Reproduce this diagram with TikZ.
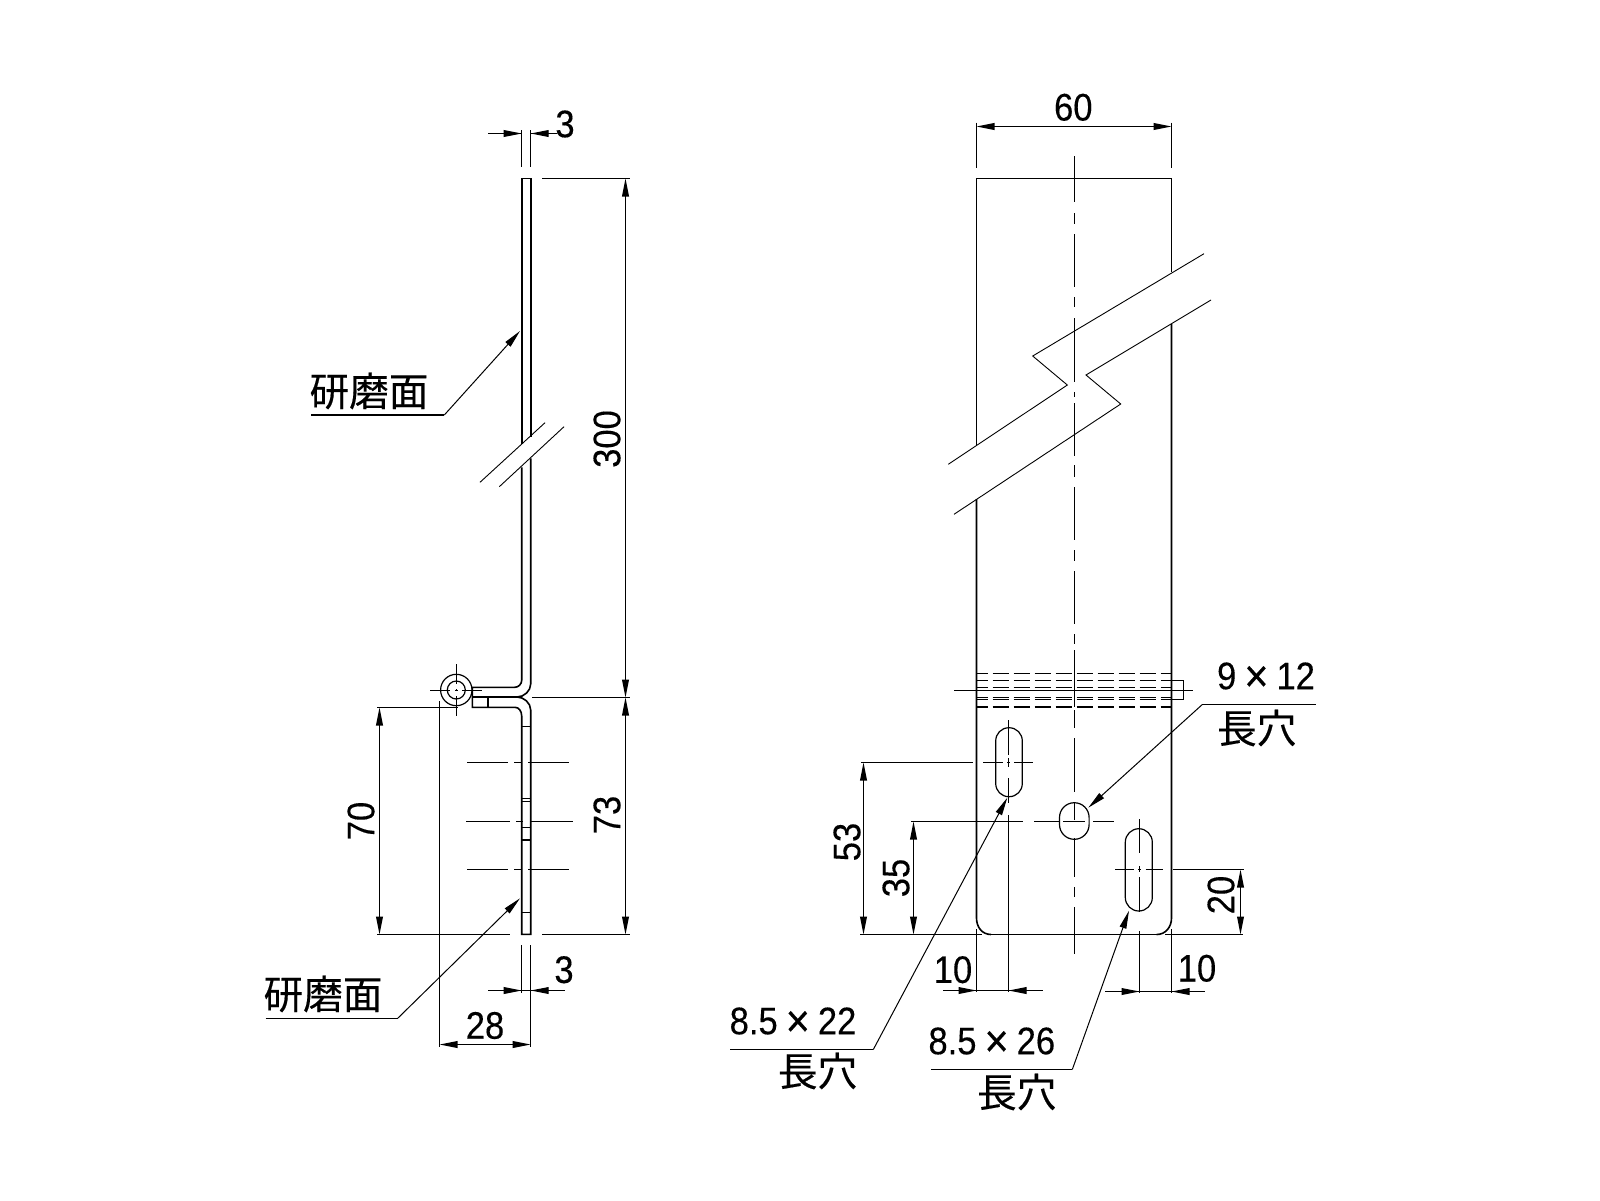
\documentclass[tikz,border=0pt]{standalone}
\usepackage{fontspec}
\setmainfont[FakeStretch=0.9,FakeBold=0.25]{Liberation Sans}
\newfontfamily\jpfont[FakeBold=0.35]{Noto Sans CJK JP}
\usetikzlibrary{arrows.meta}
\newcommand{\bigx}{\hspace{4pt}\raisebox{-1.2pt}{\fontsize{23pt}{23pt}\selectfont ×}\hspace{4pt}}
\tikzset{
  main/.style={line width=0.8pt,line cap=butt,line join=miter},
  thin line/.style={line width=0.6pt},
  hair/.style={line width=0.45pt},
  tip/.style={line width=0.5pt,-{Triangle[length=9pt,width=3.4pt]}},
  tiptwo/.style={line width=0.55pt,{Triangle[length=9pt,width=3.4pt]}-{Triangle[length=9pt,width=3.4pt]}},
  num/.style={inner sep=0pt,font=\fontsize{19.2pt}{20pt}\selectfont},
  jp/.style={inner sep=0pt,font=\fontsize{19.8pt}{21pt}\selectfont\jpfont},
  hid/.style={line width=0.6pt,dash pattern=on 8pt off 2.5pt,dash phase=2.5pt},
}
\begin{document}
\begin{tikzpicture}[x=0.5pt,y=-0.5pt]
\useasboundingbox (0,0) rectangle (1600,1200);
% ---------- left view: plate
\draw[main] (521.7,178.3) -- (530.7,178.3);
\draw[main] (521.7,178.3) -- (521.7,444.3);
\draw[main] (530.7,178.3) -- (530.7,436.7);
\draw[main] (521.7,467.3) -- (521.7,680.3) .. controls (521.7,684) and (518.5,687.3) .. (514.7,687.3) -- (472.3,687.3) -- (472.3,707.3) -- (515,707.3) .. controls (518.7,707.3) and (521.7,711) .. (521.7,716) -- (521.7,934.3) -- (530.7,934.3) -- (530.7,710) .. controls (530.7,703) and (524,697) .. (517,697) -- (472.3,697);
\draw[main] (530.7,458.3) -- (530.7,684) .. controls (530.7,691) and (524,697) .. (517,697);
\draw[thin line] (488,697) -- (488,707.3);
\foreach \y in {726.7,798.7,801.3,827.3,840,912.3} \draw[thin line] (521.7,\y) -- (530.7,\y);
\draw[thin line] (456.3,690) circle (15.7);
\draw[thin line] (456.3,690) circle (9);
\draw[hair] (430,690) -- (450,690) (455,690) -- (457.7,690) (462,690) -- (481.7,690);
\draw[hair] (456.3,664) -- (456.3,684) (456.3,689) -- (456.3,691) (456.3,696) -- (456.3,715.7);
% left view: break lines
\draw[hair] (480,482.3) -- (545,422.7);
\draw[hair] (499.3,486.7) -- (564,426.7);
% left view: centre lines
\foreach \y/\a/\b/\c/\d/\e/\f in {762.5/467/508/514/522/528/569, 821.5/466/510/516/523/530/572.7, 869.5/467/508/514/522/528/569}
  \draw[thin line] (\a,\y) -- (\b,\y) (\c,\y) -- (\d,\y) (\e,\y) -- (\f,\y);
% left view: extension and dimension lines
\draw[thin line] (542,178.5) -- (629.6,178.5);
\draw[thin line] (532,697.5) -- (629.6,697.5);
\draw[thin line] (542.3,934.5) -- (629.6,934.5);
\draw[thin line] (377.3,934.5) -- (510,934.5);
\draw[thin line] (377.3,707.5) -- (458,707.5);
\draw[thin line] (439.5,701) -- (439.5,1046.7);
\draw[thin line] (521.7,945) -- (521.7,993.3);
\draw[thin line] (530.7,945) -- (530.7,1046.7);
\draw[thin line] (521.7,130) -- (521.7,167);
\draw[thin line] (530.7,130) -- (530.7,167);
% 3 (top)
\draw[hair] (488,133.5) -- (521.7,133.5);
\draw[hair] (530.7,133.5) -- (556.7,133.5);
\draw[tip] (500,133.5) -- (521.7,133.5);
\draw[tip] (552,133.5) -- (530.7,133.5);
\node[num] (dimthreetop) at (565,124) {3};
% 3 (bottom)
\draw[hair] (488.3,990.5) -- (565,990.5);
\draw[tip] (500,990.5) -- (521.7,990.5);
\draw[tip] (552,990.5) -- (530.7,990.5);
\node[num] (dimthreebot) at (564,969.7) {3};
% 28
\draw[tiptwo] (439.5,1044.5) -- (530.7,1044.5);
\node[num] (dimtwoeight) at (485,1025.5) {28};
% 300, 73, 70
\draw[tiptwo] (625.5,178.5) -- (625.5,697.5);
\draw[tiptwo] (625.5,697.5) -- (625.5,934.5);
\draw[tiptwo] (379.5,707.5) -- (379.5,934.5);
\node[num,rotate=90] (dimthreehundred) at (607,439) {300};
\node[num,rotate=90] (dimseventythree) at (607,815) {73};
\node[num,rotate=90] (dimseventy) at (361,821) {70};
% left view: leaders
\coordinate (leadA) at (444.3,415);
\coordinate (leadAtip) at (520,331);
\coordinate (leadAend) at (311,415);
\draw[thin line] (leadAend) -- (leadA);
\draw[tip] (leadA) -- (leadAtip);
\node[jp] (polishA) at (369,391) {研磨面};
\coordinate (leadB) at (397.7,1018.3);
\coordinate (leadBtip) at (520,898.3);
\coordinate (leadBend) at (265.7,1018.3);
\draw[thin line] (leadBend) -- (leadB);
\draw[tip] (leadB) -- (leadBtip);
\node[jp] (polishB) at (323,994) {研磨面};
% ---------- right view: plate
\draw[main] (976.5,445) -- (976.5,178.5) -- (1171.5,178.5) -- (1171.5,271.7);
\draw[main] (976.5,499) -- (976.5,918) .. controls (976.5,927) and (982,934.5) .. (991,934.5);
\draw[main] (1171.5,324) -- (1171.5,918) .. controls (1171.5,927) and (1165.6,934.5) .. (1156.6,934.5);
\draw[thin line] (860,934.5) -- (982,934.5) (990,934.5) -- (1157,934.5) (1165,934.5) -- (1243.3,934.5);
% right view: break
\draw[hair] (1204,253.7) -- (1032.7,356) -- (1067.3,385) -- (948.3,464.3);
\draw[hair] (1211,300) -- (1086,375) -- (1120.7,404) -- (954,514.3);
% right view: centre line
\draw[thin line] (1074.5,156) -- (1074.5,202) (1074.5,213) -- (1074.5,224) (1074.5,234) -- (1074.5,287) (1074.5,297) -- (1074.5,307) (1074.5,318) -- (1074.5,382) (1074.5,392) -- (1074.5,397) (1074.5,403) -- (1074.5,456) (1074.5,465) -- (1074.5,477) (1074.5,487) -- (1074.5,540) (1074.5,550) -- (1074.5,561) (1074.5,571) -- (1074.5,624) (1074.5,634) -- (1074.5,644) (1074.5,650) -- (1074.5,707) (1074.5,710) -- (1074.5,728) (1074.5,738) -- (1074.5,792) (1074.5,802) -- (1074.5,820) (1074.5,838) -- (1074.5,877) (1074.5,887) -- (1074.5,897) (1074.5,907) -- (1074.5,954);
% right view: bend (hidden lines)
\foreach \y in {673.5,680.5,687.5,697.3,699.5} \draw[hid] (976.5,\y) -- (1171.5,\y);
\draw[hid,line width=1.1pt] (976.5,707) -- (1171.5,707);
\draw[thin line] (1171.5,680.5) -- (1183.5,680.5) -- (1183.5,699.5) -- (1171.5,699.5);
\draw[thin line] (954,690.5) -- (1193.3,690.5);
% right view: slots
\draw[thin line] (995.7,741) .. controls (995.7,733.6) and (1001.3,727.7) .. (1009,727.7) .. controls (1016.6,727.7) and (1022.3,733.6) .. (1022.3,741) -- (1022.3,783.4) .. controls (1022.3,790.8) and (1016.6,796.7) .. (1009,796.7) .. controls (1001.3,796.7) and (995.7,790.8) .. (995.7,783.4) -- cycle;
\draw[thin line] (1125.3,842.2) .. controls (1125.3,834.7) and (1131.4,828.7) .. (1138.8,828.7) .. controls (1146.2,828.7) and (1152.3,834.7) .. (1152.3,842.2) -- (1152.3,897.5) .. controls (1152.3,905) and (1146.2,911) .. (1138.8,911) .. controls (1131.4,911) and (1125.3,905) .. (1125.3,897.5) -- cycle;
\draw[thin line] (1059.5,817.5) .. controls (1059.5,809.3) and (1066.1,802.7) .. (1074.3,802.7) .. controls (1082.5,802.7) and (1089.1,809.3) .. (1089.1,817.5) -- (1089.1,824.5) .. controls (1089.1,832.7) and (1082.5,839.3) .. (1074.3,839.3) .. controls (1066.1,839.3) and (1059.5,832.7) .. (1059.5,824.5) -- cycle;
% right view: slot centre lines
\draw[thin line] (983.3,762.5) -- (1002.7,762.5) (1007,762.5) -- (1010,762.5) (1014,762.5) -- (1032.7,762.5);
\draw[thin line] (1008.5,720) -- (1008.5,755) (1008.5,758) -- (1008.5,767) (1008.5,778) -- (1008.5,803) (1008.5,815) -- (1008.5,991.7);
\draw[thin line] (911,821.5) -- (1023.3,821.5) (1034,821.5) -- (1059,821.5) (1063,821.5) -- (1085,821.5) (1093.3,821.5) -- (1114,821.5);
\draw[thin line] (1115,869.5) -- (1134,869.5) (1138,869.5) -- (1140.7,869.5) (1145.7,869.5) -- (1162.7,869.5);
\draw[thin line] (1172.7,869.5) -- (1244,869.5);
\draw[thin line] (1139.5,819) -- (1139.5,853) (1139.5,866) -- (1139.5,872) (1139.5,877) -- (1139.5,911.7) (1139.5,931) -- (1139.5,992.7);
\draw[thin line] (861.3,762.5) -- (972.7,762.5);
% right view: extensions
\draw[thin line] (976.5,122.7) -- (976.5,167.7);
\draw[thin line] (1171.5,122.7) -- (1171.5,167.7);
\draw[thin line] (976.5,929) -- (976.5,991.7);
\draw[thin line] (1171.5,929.3) -- (1171.5,993);
% dimensions
\draw[tiptwo] (976.5,126.5) -- (1171.5,126.5);
\node[num] (dimsixty) at (1073.3,107.3) {60};
\draw[tiptwo] (863.5,762.5) -- (863.5,934.5);
\node[num,rotate=90] (dimfiftythree) at (847,842) {53};
\draw[tiptwo] (913.5,821.5) -- (913.5,934.5);
\node[num,rotate=90] (dimthirtyfive) at (896,878) {35};
\draw[tiptwo] (1240.5,869.5) -- (1240.5,934.5);
\node[num,rotate=90] (dimtwenty) at (1221,895) {20};
\draw[hair] (943.3,990.5) -- (1042.7,990.5);
\draw[tip] (955,990.5) -- (976.5,990.5);
\draw[tip] (1030,990.5) -- (1008.5,990.5);
\node[num] (dimtenL) at (953,969.7) {10};
\draw[hair] (1105,991.5) -- (1205,991.5);
\draw[tip] (1118,991.5) -- (1139.5,991.5);
\draw[tip] (1193,991.5) -- (1171.5,991.5);
\node[num] (dimtenR) at (1197,968.3) {10};
% right view: leaders
\coordinate (leadC) at (873.3,1049.5);
\coordinate (leadCtip) at (1007.3,797.7);
\coordinate (leadCend) at (730,1049.5);
\draw[thin line] (leadCend) -- (leadC);
\draw[tip] (leadC) -- (leadCtip);
\node[num] (slotA) at (793,1022) {8.5\bigx 22};
\node[jp] (slotAj) at (817.5,1071) {長穴};
\coordinate (leadD) at (1072.3,1069.5);
\coordinate (leadDtip) at (1129,910.7);
\coordinate (leadDend) at (931,1069.5);
\draw[thin line] (leadDend) -- (leadD);
\draw[tip] (leadD) -- (leadDtip);
\node[num] (slotB) at (991.8,1042) {8.5\bigx 26};
\node[jp] (slotBj) at (1016.7,1092) {長穴};
\coordinate (leadE) at (1202.3,704.5);
\coordinate (leadEtip) at (1088.3,807.7);
\coordinate (leadEend) at (1315.7,704.5);
\draw[thin line] (leadEend) -- (leadE);
\draw[tip] (leadE) -- (leadEtip);
\node[num] (slotC) at (1266,677) {9\bigx 12};
\node[jp] (slotCj) at (1256.7,728) {長穴};
\end{tikzpicture}
\end{document}
